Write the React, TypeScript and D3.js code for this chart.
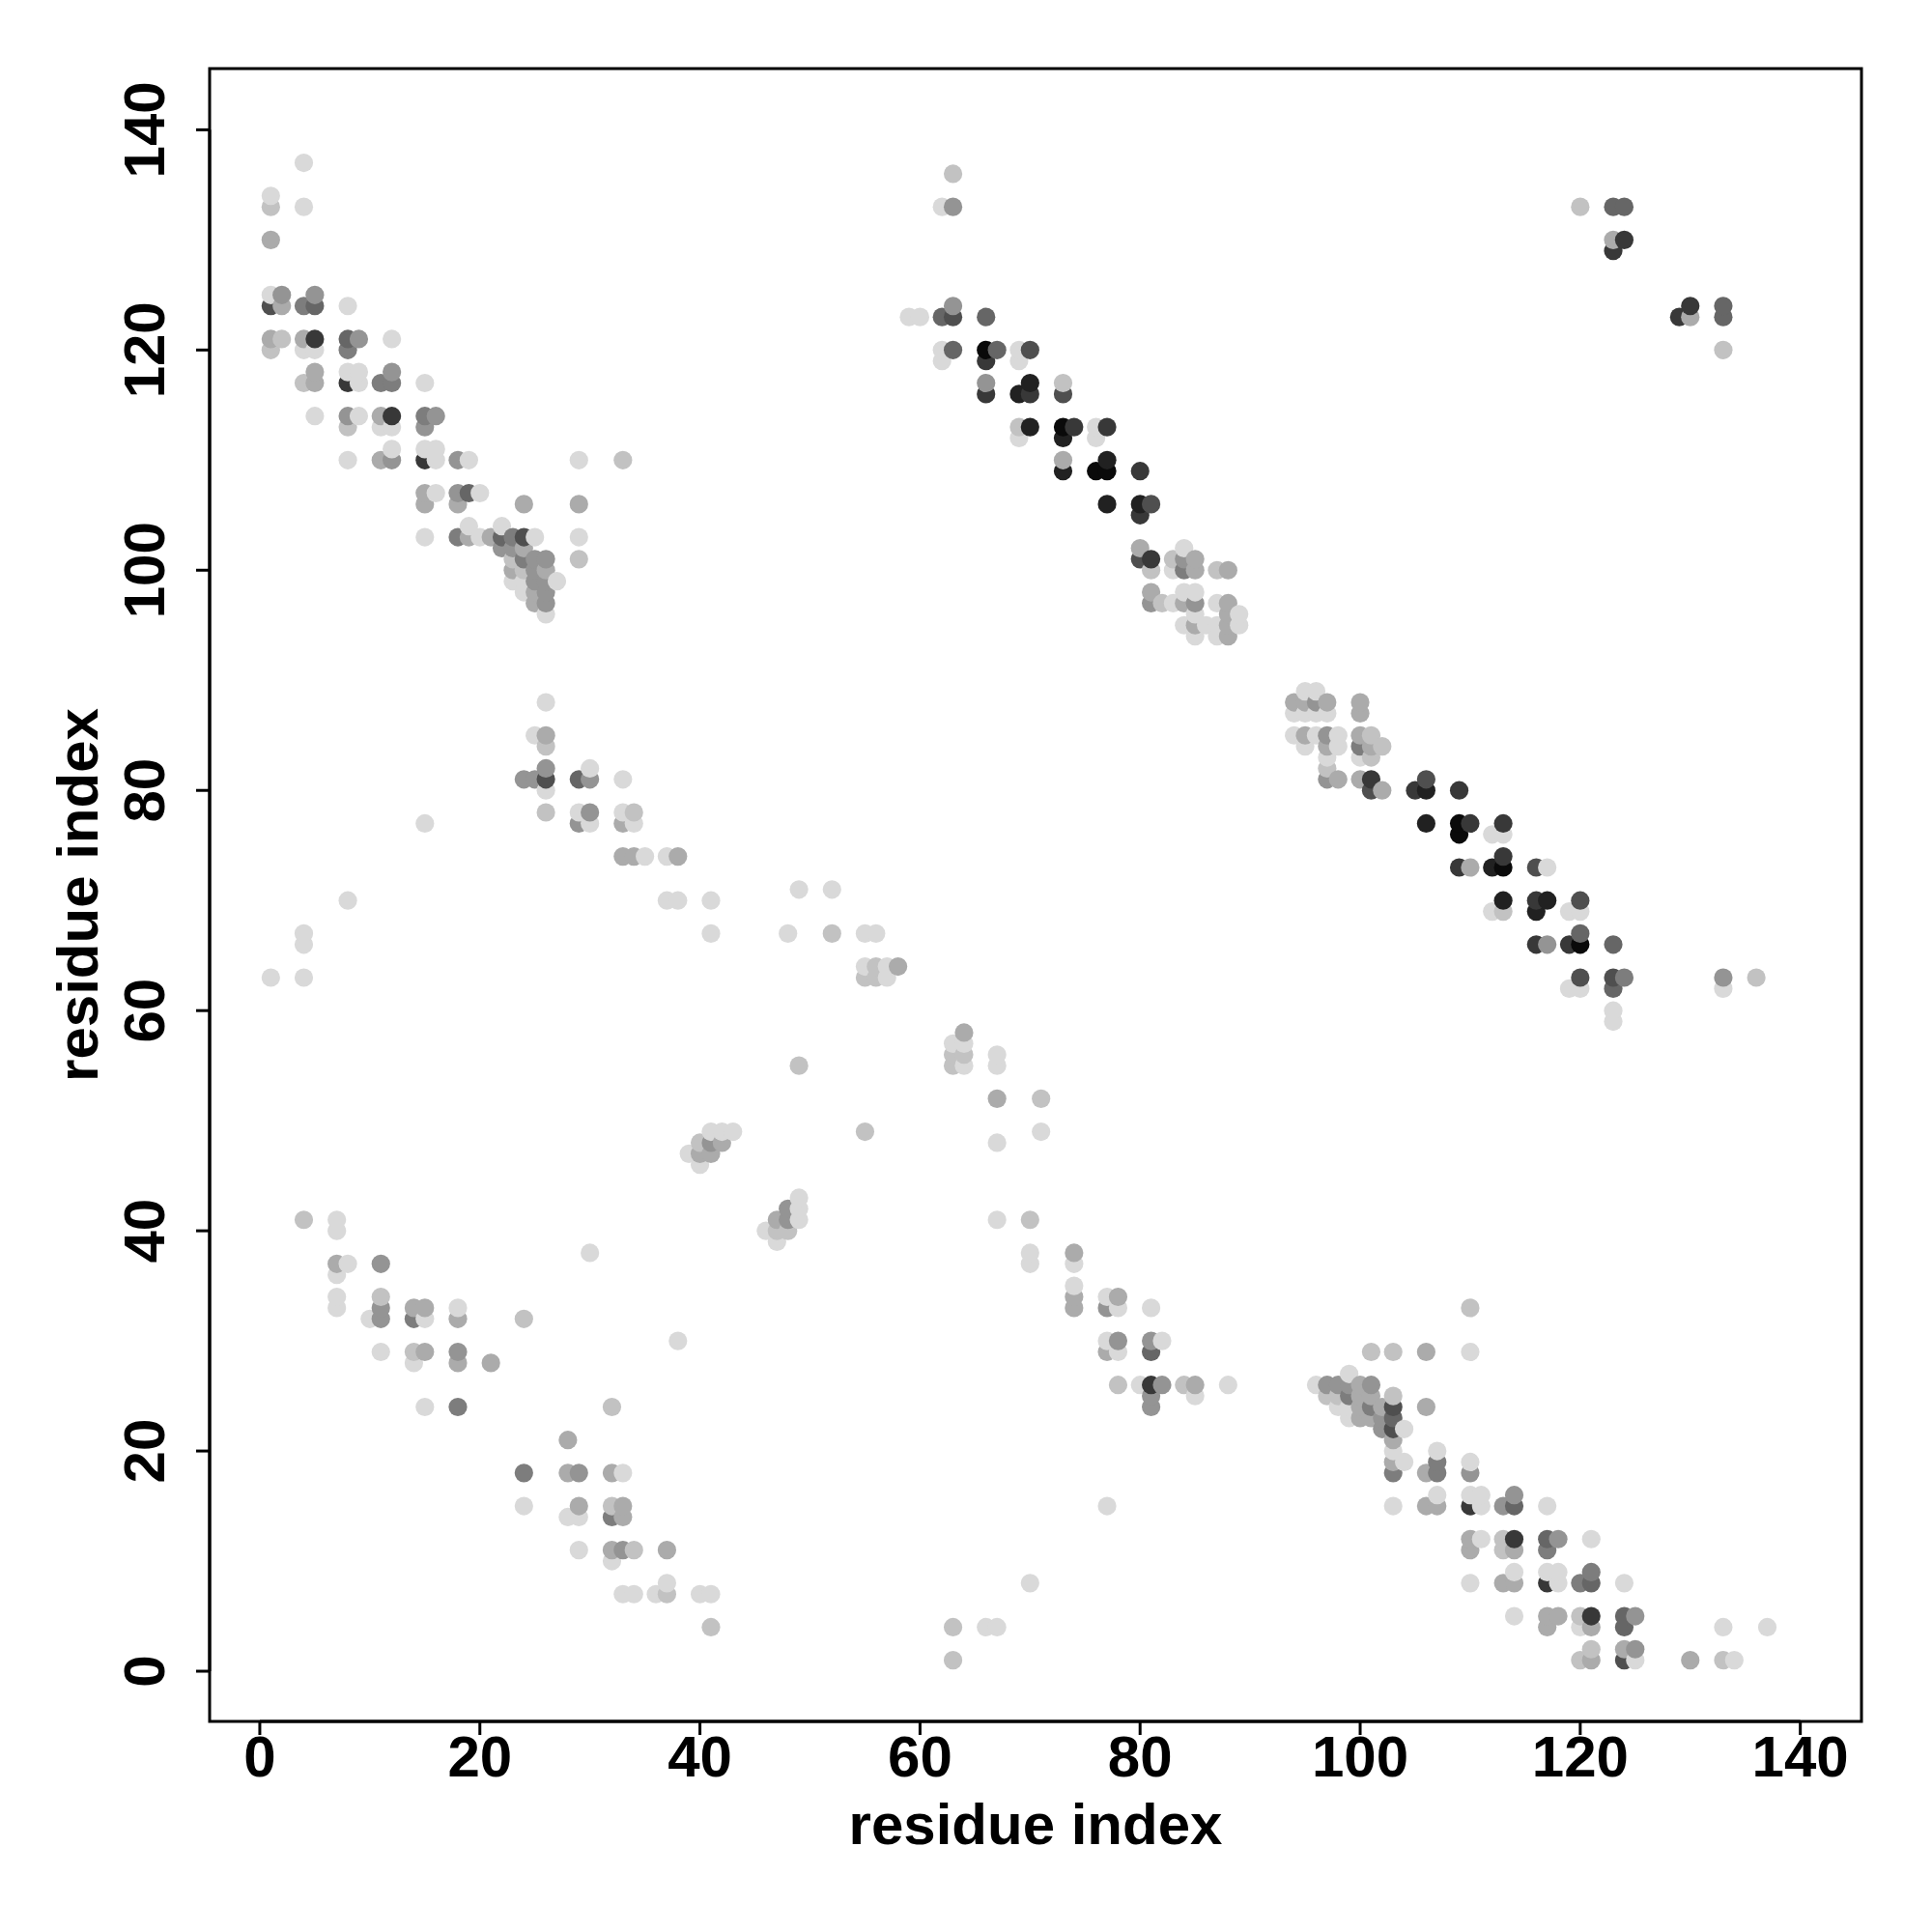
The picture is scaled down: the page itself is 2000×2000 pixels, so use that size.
import React from "react";
import * as d3 from "d3";

// [residue i (x), residue j (y), contact strength level 1 (weak) .. 10 (strong)]
type Contact = [number, number, number];

const xTicks = [0, 20, 40, 60, 80, 100, 120, 140];
const yTicks = [0, 20, 40, 60, 80, 100, 120, 140];
const xTitle = "residue index";
const yTitle = "residue index";

const contactsUpperLeft: Contact[] = [
  [4,137,1],[1,134,1],[1,133,2],[4,133,1],[1,130,3],
  [1,125,1],[2,125,4],[1,124,7],[2,124,3],[5,125,4],[4,124,5],[5,124,6],[8,124,1],
  [1,121,3],[2,121,2],[1,120,2],[4,121,3],[5,121,8],[4,120,1],[5,120,1],
  [8,121,6],[9,121,4],[8,120,5],[12,121,1],
  [5,118,3],[4,117,2],[5,117,3],[8,118,1],[9,118,1],[8,117,8],[9,117,1],
  [12,118,4],[11,117,5],[12,117,5],[15,117,1],
  [5,114,1],[8,114,4],[9,114,1],[8,113,2],[11,114,3],[12,114,8],[11,113,1],[12,113,1],
  [15,114,5],[16,114,4],[15,113,4],
  [12,111,1],[11,110,3],[12,110,4],[15,111,1],[16,111,1],[15,110,8],[16,110,1],
  [18,110,4],[19,110,1],[8,110,1],[29,110,1],[33,110,2],
  [15,107,3],[16,107,1],[18,107,4],[19,107,6],[20,107,1],
  [15,106,3],[18,106,3],[24,106,3],[29,106,3],
  [19,104,1],[22,104,1],
  [15,103,1],[18,103,5],[19,103,3],[20,103,1],[21,103,3],[22,103,6],[23,103,5],[24,103,7],[25,103,1],[29,103,1],
  [22,102,4],[23,102,4],[24,102,3],
  [23,101,2],[24,101,5],[25,101,4],[26,101,4],[29,101,2],
  [23,100,3],[24,100,2],[25,100,4],[26,100,3],
  [23,99,1],[24,99,1],[25,99,4],[26,99,4],[27,99,1],
  [24,98,1],[25,98,3],[26,98,4],[25,97,3],[26,97,4],[26,96,1],
];

const contactsLeftMiddle: Contact[] = [
  [26,88,1],[25,85,1],[26,85,3],[26,84,2],[26,82,4],[30,82,1],
  [24,81,4],[25,81,4],[26,81,7],[29,81,6],[30,81,4],[33,81,1],[26,80,1],
  [26,78,2],[29,78,1],[30,78,4],[33,78,1],[34,78,2],
  [15,77,1],[29,77,4],[30,77,1],[33,77,3],[34,77,1],
  [33,74,3],[34,74,3],[35,74,1],[37,74,1],[38,74,3],
  [8,70,1],[37,70,1],[38,70,1],[41,70,1],
  [4,67,1],[41,67,1],[4,66,1],[1,63,1],[4,63,1],
];

const contactsCentre: Contact[] = [
  [49,71,1],[52,71,1],
  [48,67,1],[52,67,2],[55,67,1],[56,67,1],
  [55,64,1],[56,64,2],[57,64,1],[58,64,3],[55,63,2],[56,63,2],[57,63,1],
  [49,55,2],[55,49,2],
  [41,49,1],[42,49,1],[43,49,1],[40,48,2],[41,48,4],[42,48,3],
  [39,47,1],[40,47,3],[41,47,3],[40,46,1],
  [49,43,1],[48,42,4],[49,42,1],[47,41,3],[48,41,4],[49,41,1],
  [46,40,1],[47,40,2],[48,40,2],[47,39,1],
];

const contactsLowerMiddle: Contact[] = [
  [64,58,3],[63,57,1],[64,57,1],[63,56,2],[64,56,2],[67,56,1],[63,55,2],[64,55,1],[67,55,1],
  [67,52,3],[71,52,2],[71,49,1],[67,48,1],[67,41,1],[70,41,2],
  [70,38,1],[74,38,3],[70,37,1],[74,37,1],[74,35,1],
  [74,34,3],[77,34,1],[78,34,3],[74,33,3],[77,33,4],[78,33,1],[81,33,1],
  [77,30,1],[78,30,4],[81,30,4],[82,30,1],[77,29,3],[78,29,1],[81,29,6],
  [78,26,2],[80,26,1],[81,26,8],[82,26,4],[84,26,2],[85,26,3],[88,26,1],
  [81,25,4],[85,25,1],[81,24,4],
  [77,15,1],[70,8,1],[63,4,2],[66,4,1],[67,4,1],[63,1,2],
];

const contactsLowerLeft: Contact[] = [
  [4,41,2],[7,41,1],[7,40,1],[30,38,1],
  [7,37,3],[8,37,1],[11,37,4],[7,36,1],[7,34,1],[11,34,2],
  [7,33,1],[11,33,4],[14,33,3],[15,33,3],[18,33,1],
  [10,32,1],[11,32,4],[14,32,5],[15,32,1],[18,32,3],[24,32,2],
  [38,30,1],[11,29,1],[14,29,2],[15,29,3],[18,29,4],
  [14,28,1],[18,28,3],[21,28,3],
  [15,24,1],[18,24,5],[32,24,2],[28,21,3],
  [24,18,5],[28,18,3],[29,18,4],[32,18,3],[33,18,1],
  [24,15,1],[29,15,3],[32,15,2],[33,15,3],
  [28,14,1],[29,14,1],[32,14,5],[33,14,3],
  [29,11,1],[32,11,3],[33,11,4],[34,11,2],[37,11,3],[32,10,1],[37,8,1],
  [33,7,1],[34,7,1],[36,7,1],[37,7,2],[40,7,1],[41,7,1],[41,4,2],
];

const contactsUpperRight: Contact[] = [
  [63,136,2],[62,133,1],[63,133,4],[63,124,4],
  [59,123,1],[60,123,1],[62,123,6],[63,123,7],[66,123,6],
  [62,120,1],[63,120,6],[66,120,10],[67,120,6],[69,120,1],[70,120,7],
  [62,119,1],[66,119,8],[69,119,1],
  [66,117,4],[70,117,9],[73,117,2],[66,116,8],[69,116,9],[70,116,8],[73,116,7],
  [69,113,2],[70,113,9],[73,113,10],[74,113,8],[76,113,1],[77,113,8],
  [69,112,1],[73,112,9],[76,112,1],[73,110,3],[77,110,9],
  [73,109,9],[76,109,10],[77,109,10],[80,109,8],
  [77,106,9],[80,106,9],[81,106,7],[80,105,8],
  [80,102,3],[84,102,1],
  [80,101,7],[81,101,8],[83,101,2],[84,101,4],[85,101,3],
  [81,100,2],[83,100,1],[84,100,5],[85,100,3],[87,100,2],[88,100,3],
  [81,98,3],[84,98,1],[85,98,1],
  [81,97,4],[82,97,2],[83,97,1],[84,97,3],[85,97,4],[87,97,1],[88,97,3],
  [85,96,1],[88,96,3],[89,96,1],
  [84,95,1],[85,95,3],[86,95,1],[87,95,1],[88,95,3],[89,95,1],
  [85,94,1],[87,94,1],[88,94,3],
];

const contactsRightMiddle: Contact[] = [
  [95,89,1],[96,89,1],
  [94,88,3],[95,88,3],[96,88,4],[97,88,3],[100,88,3],
  [94,87,1],[95,87,1],[96,87,1],[97,87,1],[100,87,3],
  [94,85,1],[95,85,3],[96,85,1],[97,85,4],[98,85,1],[100,85,3],[101,85,2],
  [95,84,1],[97,84,3],[98,84,1],[100,84,5],[101,84,3],[102,84,2],
  [97,83,1],[100,83,1],[101,83,2],[97,82,2],
  [97,81,4],[98,81,3],[100,81,3],[101,81,8],[106,81,7],
  [101,80,7],[102,80,3],[105,80,8],[106,80,9],[109,80,8],
  [106,77,9],[109,77,10],[110,77,8],[113,77,8],
  [109,76,10],[112,76,1],[113,76,1],[113,74,8],
  [109,73,8],[110,73,3],[112,73,9],[113,73,10],[116,73,7],[117,73,1],
  [113,70,9],[116,70,8],[117,70,9],[120,70,7],
  [112,69,1],[113,69,2],[116,69,9],[119,69,1],[120,69,1],
  [120,67,6],
  [116,66,8],[117,66,4],[119,66,8],[120,66,10],[123,66,6],
  [120,63,7],[123,63,7],[124,63,5],[133,63,4],[136,63,2],
  [119,62,1],[120,62,1],[123,62,6],[133,62,1],
  [123,60,1],[123,59,1],
];

const contactsTopRight: Contact[] = [
  [120,133,2],[123,133,6],[124,133,6],[123,130,3],[124,130,8],[123,129,8],
  [130,124,8],[133,124,6],[129,123,8],[130,123,3],[133,123,6],[133,120,2],
];

const contactsLowerRight: Contact[] = [
  [110,33,2],
  [101,29,2],[103,29,2],[106,29,3],[110,29,1],[99,27,1],
  [96,26,1],[97,26,4],[98,26,4],[99,26,4],[100,26,3],[101,26,4],
  [97,25,2],[98,25,2],[99,25,5],[100,25,3],[101,25,3],[103,25,2],
  [98,24,1],[99,24,1],[100,24,3],[101,24,5],[102,24,3],[103,24,7],[106,24,3],
  [99,23,1],[100,23,3],[101,23,3],[102,23,4],[103,23,6],
  [102,22,4],[103,22,7],[104,22,1],[103,21,3],[103,20,1],[107,20,1],
  [103,19,3],[104,19,1],[107,19,5],[110,19,1],
  [103,18,5],[106,18,3],[107,18,5],[110,18,4],
  [107,16,1],[110,16,1],[111,16,1],[114,16,4],
  [103,15,1],[106,15,3],[107,15,3],[110,15,8],[111,15,1],[113,15,4],[114,15,6],[117,15,1],
  [110,12,3],[111,12,1],[113,12,2],[114,12,8],[117,12,6],[118,12,4],[121,12,1],
  [110,11,3],[113,11,2],[114,11,3],[117,11,5],
  [114,9,1],[117,9,1],[118,9,1],[121,9,5],
  [110,8,1],[113,8,3],[114,8,3],[117,8,8],[118,8,1],[120,8,5],[121,8,6],[124,8,1],
  [114,5,1],[117,5,3],[118,5,3],[120,5,2],[121,5,8],[124,5,6],[125,5,4],
  [117,4,3],[120,4,1],[121,4,3],[124,4,6],[133,4,1],[137,4,1],
  [121,2,2],[124,2,3],[125,2,4],
  [120,1,2],[121,1,3],[124,1,7],[125,1,1],[130,1,3],[133,1,2],[134,1,1],
];

const allContacts: Contact[] = [
  ...contactsUpperLeft, ...contactsLeftMiddle, ...contactsCentre, ...contactsLowerMiddle,
  ...contactsLowerLeft, ...contactsUpperRight, ...contactsRightMiddle, ...contactsTopRight,
  ...contactsLowerRight,
].slice().sort((a, b) => a[0] - b[0] || a[1] - b[1]);

export default function App() {
  const W = 2000, H = 2000;
  const left = 217, right = 1927, top = 71, bottom = 1782;
  const x = d3.scaleLinear().domain([-4.56, 145.56]).range([left, right]);
  const y = d3.scaleLinear().domain([-4.56, 145.56]).range([bottom, top]);
  const grey = d3.scaleLinear<number>().domain([1, 10]).range([217, 10]);
  const colour = (lv: number) => {
    const g = Math.round(grey(lv));
    return d3.rgb(g, g, g).formatHex();
  };
  const font = "'Liberation Sans', Arial, Helvetica, sans-serif";
  const fs = 60;
  const tickLen = 14;

  return (
    <svg width={W} height={H} viewBox={`0 0 ${W} ${H}`}
      style={{ position: "absolute", left: 0, top: 0, background: "#fff", display: "block" }}>
      <rect x={0} y={0} width={W} height={H} fill="#ffffff" />
      <g>
        {allContacts.map((d, i) => (
          <circle key={i} cx={x(d[0])} cy={y(d[1])} r={9.6} fill={colour(d[2])} />
        ))}
      </g>
      <rect x={left} y={top} width={right - left} height={bottom - top}
        fill="none" stroke="#000" strokeWidth={3} />
      <g>
        {xTicks.map((t) => (
          <g key={"x" + t}>
            <line x1={x(t)} x2={x(t)} y1={bottom} y2={bottom + tickLen} stroke="#000" strokeWidth={3} />
            <text x={x(t)} y={1839} textAnchor="middle" fontFamily={font} fontWeight="bold" fontSize={fs}>{t}</text>
          </g>
        ))}
        <line x1={x(0)} x2={x(140)} y1={bottom} y2={bottom} stroke="#000" strokeWidth={3} />
      </g>
      <g>
        {yTicks.map((t) => (
          <g key={"y" + t}>
            <line x1={left} x2={left - tickLen} y1={y(t)} y2={y(t)} stroke="#000" strokeWidth={3} />
            <text transform={`translate(170,${y(t)}) rotate(-90)`} textAnchor="middle"
              fontFamily={font} fontWeight="bold" fontSize={fs}>{t}</text>
          </g>
        ))}
        <line x1={left} x2={left} y1={y(0)} y2={y(140)} stroke="#000" strokeWidth={3} />
      </g>
      <text x={(left + right) / 2} y={1909} textAnchor="middle" fontFamily={font} fontWeight="bold" fontSize={fs}>{xTitle}</text>
      <text transform={`translate(101,${(top + bottom) / 2}) rotate(-90)`} textAnchor="middle"
        fontFamily={font} fontWeight="bold" fontSize={fs}>{yTitle}</text>
    </svg>
  );
}
